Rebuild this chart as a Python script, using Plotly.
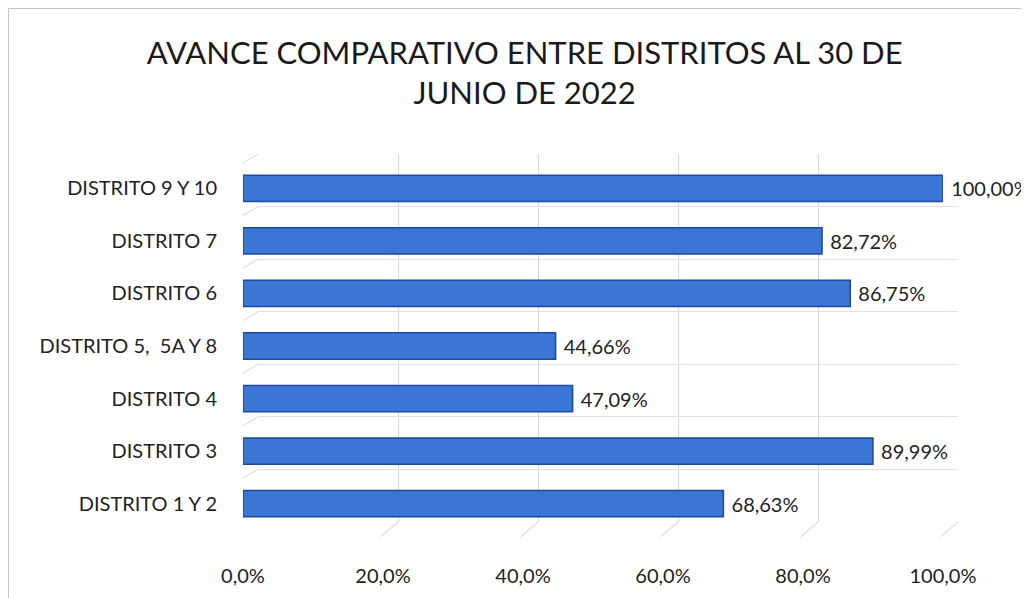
import plotly.graph_objects as go

categories = ["DISTRITO 1 Y 2", "DISTRITO 3", "DISTRITO 4", "DISTRITO 5,\u00a0 5A Y 8",
              "DISTRITO 6", "DISTRITO 7", "DISTRITO 9 Y 10"]
avance = [68.63, 89.99, 47.09, 44.66, 86.75, 82.72, 100.00]
tick_values = [0, 20, 40, 60, 80, 100]
tick_labels = ["0,0%", "20,0%", "40,0%", "60,0%", "80,0%", "100,0%"]
title_text = "AVANCE COMPARATIVO ENTRE DISTRITOS AL 30 DE<br>JUNIO DE 2022"

FONT = "Lato"
W, H = 1021, 590          # page body has an 8px margin inside the 1029x598 window
L, R, T, B = 235, 71, 146, 68
pw = W - L - R
ph = H - T - B
shift_x = 15
shift_y = 8

fig = go.Figure()

# back-wall grid subplot (x, y)
fig.add_trace(go.Scatter(x=[0, 100], y=[0, len(categories)], mode="markers",
                         marker=dict(opacity=0), hoverinfo="skip", showlegend=False,
                         xaxis="x", yaxis="y"))

# bars (x2, y2)
fig.add_trace(go.Bar(
    x=avance, y=categories, orientation="h",
    marker=dict(color="#3b76d6", line=dict(color="#1d4a9e", width=1.5)),
    width=0.5,
    text=avance, texttemplate="\u00a0%{x:.2f}%", textposition="outside",
    textfont=dict(family=FONT, size=20, color="#222222"),
    cliponaxis=False, showlegend=False,
    xaxis="x2", yaxis="y2"))

fig.update_layout(
    width=W, height=H,
    margin=dict(l=L, r=R, t=T, b=B, autoexpand=False),
    paper_bgcolor="white", plot_bgcolor="rgba(0,0,0,0)",
    separators=",.",
    title=dict(text=title_text, x=0.506, xanchor="center", y=0.905, yanchor="top",
               yref="container",
               font=dict(family=FONT, size=31, color="#1a1a1a")),
    xaxis=dict(domain=[shift_x / pw, 1], range=[0, 100], tickvals=tick_values,
               showticklabels=False, showgrid=True, gridcolor="#d9d5e2", gridwidth=1,
               zeroline=False, showline=False, anchor="y"),
    yaxis=dict(domain=[shift_y / ph, 1], range=[0, len(categories)], dtick=1,
               showticklabels=False, showgrid=True, gridcolor="#e2dfe8", gridwidth=1,
               zeroline=False, showline=False, anchor="x"),
    xaxis2=dict(domain=[0, (pw - shift_x) / pw], range=[0, 100], tickvals=tick_values,
                ticktext=tick_labels, showgrid=False, zeroline=False,
                showline=False, anchor="y2", ticklabelstandoff=32,
                tickfont=dict(family=FONT, size=20, color="#222222")),
    yaxis2=dict(domain=[0, (ph - shift_y) / ph], range=[-0.5, len(categories) - 0.5],
                showgrid=False, zeroline=False, showline=False, anchor="x2",
                ticklabelstandoff=25,
                tickfont=dict(family=FONT, size=20, color="#222222")),
    bargap=0.5,
)

shapes = []
# floor depth diagonals
for v in tick_values:
    shapes.append(dict(type="line", xref="x", yref="paper", x0=v, y0=shift_y / ph,
                       x1=v - 2.5, y1=-7 / ph, line=dict(color="#cfcbd8", width=1),
                       layer="below"))
# left wall depth diagonals
for k in range(len(categories) + 1):
    shapes.append(dict(type="line", xref="paper", yref="y", x0=shift_x / pw, y0=k,
                       x1=0, y1=k - 0.17, line=dict(color="#d6d2de", width=1),
                       layer="below"))
# frame
shapes.append(dict(type="rect", xref="paper", yref="paper",
                   x0=(0.5 - L) / pw, x1=(W + 20 - L) / pw,
                   y0=-(B + 20) / ph, y1=(ph + T - 0.5) / ph,
                   line=dict(color="#c4c4c4", width=1), fillcolor="rgba(0,0,0,0)",
                   layer="below"))
fig.update_layout(shapes=shapes)

fig.write_html("out.html")
